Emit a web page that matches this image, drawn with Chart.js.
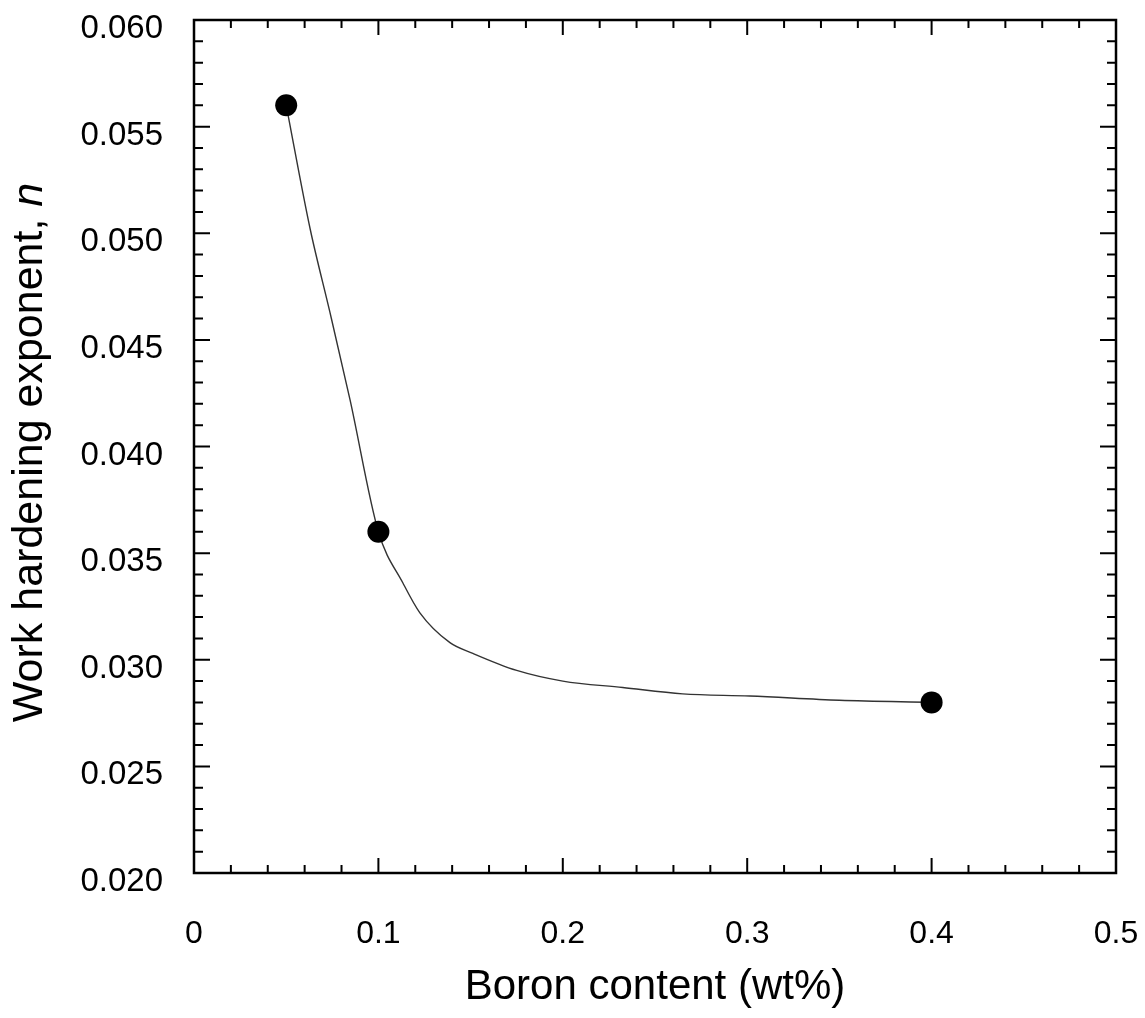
<!DOCTYPE html>
<html>
<head>
<meta charset="utf-8">
<script src="https://cdn.jsdelivr.net/npm/chart.js@4"></script>
<style>
  body { margin: 0; background: #fff; }
  canvas { display: block; }
</style>
</head>
<body>
<canvas id="chart" width="1145" height="1018"></canvas>
<script>
// Measured points
const boron = [0.05, 0.1, 0.4];
const nValues = [0.056, 0.036, 0.028];

// Fitted curve
const curveX = [0.05, 0.063, 0.0737, 0.0846, 0.1, 0.1133, 0.1225, 0.1388, 0.1512, 0.175, 0.2, 0.2325, 0.265, 0.3014, 0.35, 0.4];
const curveY = [0.056, 0.0502, 0.0463, 0.0422, 0.036, 0.0336, 0.0322, 0.0308, 0.0303, 0.0295, 0.029, 0.0287, 0.0284, 0.0283, 0.0281, 0.028];

// Tick labels
const xTickLabels = ["0", "0.1", "0.2", "0.3", "0.4", "0.5"];
const yTickLabels = ["0.020", "0.025", "0.030", "0.035", "0.040", "0.045", "0.050", "0.055", "0.060"];

const xMinorStep = 0.02, yMinorStep = 0.001;
const FONT = "'Liberation Sans', Arial, sans-serif";
const TITLE_SIZE = 43;
const yTitle = "Work hardening exponent, ";
const yTitleSymbol = "n";
const yTitlePad = "   "; // room for the italic n, keeps the whole title centred

// inward ticks on all four sides + frame, and the italic n of the y title
const frameTicks = {
  id: "frameTicks",
  afterDraw(chart) {
    const { ctx, chartArea: a, scales } = chart;
    const xs = scales.x, ys = scales.y;
    ctx.save();
    ctx.strokeStyle = "#000";
    ctx.lineWidth = 2;
    ctx.beginPath();
    const nx = Math.round((xs.max - xs.min) / xMinorStep);
    for (let i = 1; i < nx; i++) {
      const px = xs.getPixelForValue(xs.min + i * xMinorStep);
      const len = i % 5 === 0 ? 15 : 8;
      ctx.moveTo(px, a.bottom); ctx.lineTo(px, a.bottom - len);
      ctx.moveTo(px, a.top); ctx.lineTo(px, a.top + len);
    }
    const ny = Math.round((ys.max - ys.min) / yMinorStep);
    for (let i = 1; i < ny; i++) {
      const py = ys.getPixelForValue(ys.min + i * yMinorStep);
      const len = i % 5 === 0 ? 16 : 9;
      ctx.moveTo(a.left, py); ctx.lineTo(a.left + len, py);
      ctx.moveTo(a.right, py); ctx.lineTo(a.right - len, py);
    }
    ctx.stroke();
    ctx.lineWidth = 2.5;
    ctx.strokeRect(a.left, a.top, a.right - a.left, a.bottom - a.top);

    // italic n after the y title
    ctx.font = `${TITLE_SIZE}px ${FONT}`;
    const w1 = ctx.measureText(yTitle).width;
    const wAll = ctx.measureText(yTitle + yTitlePad).width;
    const tx = ys.left + TITLE_SIZE * 1.2 / 2 + 4;
    const cy = (ys.top + ys.bottom) / 2;
    ctx.translate(tx, cy + wAll / 2 - w1);
    ctx.rotate(-Math.PI / 2);
    ctx.font = `italic ${TITLE_SIZE}px ${FONT}`;
    ctx.fillStyle = "#000";
    ctx.textAlign = "left";
    ctx.textBaseline = "middle";
    ctx.fillText(yTitleSymbol, 0, 0);
    ctx.restore();
  }
};

new Chart(document.getElementById("chart"), {
  type: "scatter",
  data: {
    datasets: [
      {
        label: "n",
        data: boron.map((b, i) => ({ x: b, y: nValues[i] })),
        backgroundColor: "#000",
        borderColor: "#000",
        pointRadius: 11,
        pointBorderWidth: 0
      },
      {
        label: "fit",
        data: curveX.map((b, i) => ({ x: b, y: curveY[i] })),
        showLine: true,
        borderColor: "#333",
        borderWidth: 1.4,
        pointRadius: 0,
        cubicInterpolationMode: "monotone"
      }
    ]
  },
  options: {
    responsive: false,
    animation: false,
    layout: { padding: { top: 20, right: 29, left: 0, bottom: 0 } },
    plugins: { legend: { display: false }, tooltip: { enabled: false } },
    scales: {
      x: {
        type: "linear",
        min: 0, max: 0.5,
        grid: { display: false },
        border: { display: false },
        ticks: {
          stepSize: 0.1,
          padding: 34,
          color: "#000",
          font: { family: FONT, size: 32 },
          callback: (v, i) => xTickLabels[i]
        },
        title: {
          display: true,
          text: "Boron content (wt%)",
          color: "#000",
          font: { family: FONT, size: 42 },
          padding: { top: 0, bottom: 5 }
        },
        afterFit: s => {
          s.height = 145;
          s.paddingLeft = 0; s.paddingRight = 0;
        }
      },
      y: {
        type: "linear",
        min: 0.02, max: 0.06,
        grid: { display: false },
        border: { display: false },
        ticks: {
          stepSize: 0.005,
          padding: 23,
          labelOffset: 9,
          color: "#000",
          font: { family: FONT, size: 33 },
          callback: (v, i) => yTickLabels[i]
        },
        title: {
          display: true,
          text: yTitle + yTitlePad,
          color: "#000",
          font: { family: FONT, size: TITLE_SIZE },
          padding: { top: 4, bottom: 0 }
        },
        afterFit: s => {
          s.width = 194;
          s.paddingTop = 0; s.paddingBottom = 0;
        }
      }
    }
  },
  plugins: [frameTicks]
});
</script>
</body>
</html>
